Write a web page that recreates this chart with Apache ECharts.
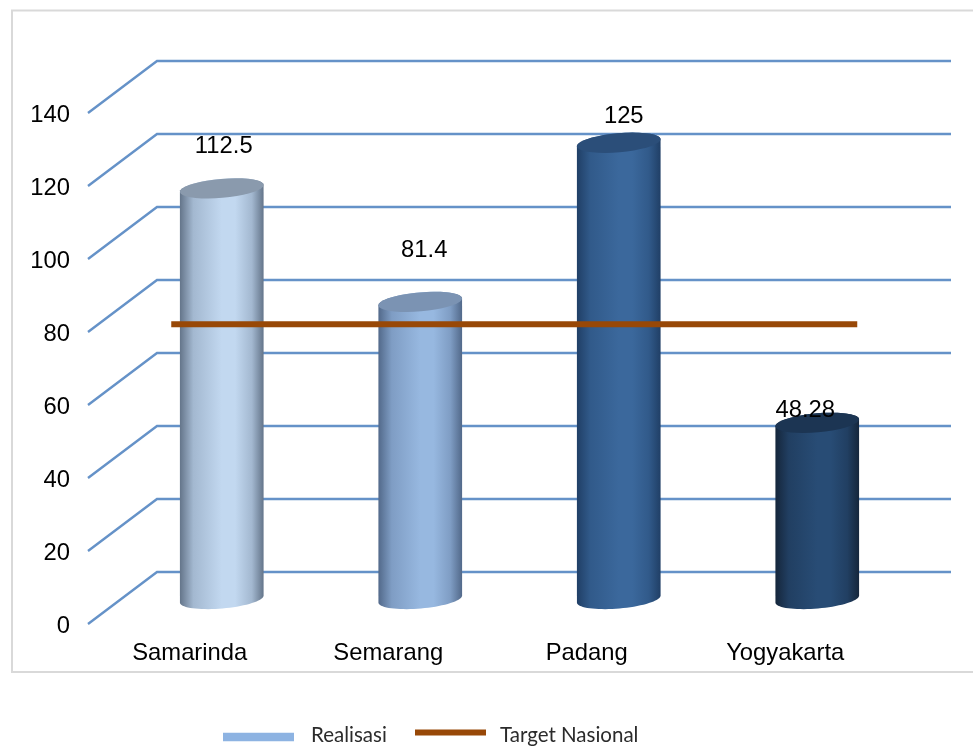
<!DOCTYPE html>
<html>
<head>
<meta charset="utf-8">
<style>html,body{margin:0;padding:0;background:#fff}#c{width:973px;height:746px}</style>
<script src="https://cdn.jsdelivr.net/npm/echarts@6/dist/echarts.min.js"></script>
</head>
<body>
<div id="c"></div>
<script>
var categories = ['Samarinda', 'Semarang', 'Padang', 'Yogyakarta'];
var realisasi = [112.5, 81.4, 125, 48.28];
var realisasiLabels = ['112.5', '81.4', '125', '48.28'];
var targetNasional = [75, 75, 75, 75];
var yTicks = [0, 20, 40, 60, 80, 100, 120, 140];

// look of the pseudo-3D chart
var DEPTH_X = 69, DEPTH_Y = 52;
var RX = 42, RY = 9.5, TILT = -5 * Math.PI / 180;
var SKINS = [
  { edge: '#64758a', shoulder: '#a3b8d0', mid: '#c2d8f0', top: '#8a9aad' },
  { edge: '#52698a', shoulder: '#7f9dc4', mid: '#97b8e0', top: '#7b93b3' },
  { edge: '#203f66', shoulder: '#315a8a', mid: '#3b689c', top: '#2b4e79' },
  { edge: '#15263b', shoulder: '#213f62', mid: '#284c75', top: '#1c3553' }
];
var LABEL_LIFT = [42, 51, 26, 12];
var LABEL_SHIFT = [2, 4, 5, -12];

function ellipsePt(cx, cy, t) {
  var c = Math.cos(t), s = Math.sin(t), ca = Math.cos(TILT), sa = Math.sin(TILT);
  return [cx + RX * c * ca - RY * s * sa, cy + RX * c * sa + RY * s * ca];
}
function arc(cx, cy, from, to) {
  var pts = [], n = 36;
  for (var i = 0; i <= n; i++) pts.push(ellipsePt(cx, cy, from + (to - from) * i / n));
  return pts;
}

var chart = echarts.init(document.getElementById('c'), null, { renderer: 'canvas' });
chart.setOption({
  animation: false,
  backgroundColor: '#ffffff',
  graphic: [{
    type: 'rect', z: -1, silent: true,
    shape: { x: 12, y: 10.5, width: 970, height: 661.5 },
    style: { fill: 'none', stroke: '#d9d9d9', lineWidth: 2 }
  }],
  grid: { left: 88, top: 113, width: 794, height: 511, containLabel: false },
  xAxis: {
    type: 'category', data: categories,
    axisLine: { show: false }, axisTick: { show: false }, splitLine: { show: false },
    axisLabel: { color: '#000', fontFamily: 'Liberation Sans', fontSize: 23.8, margin: 17, padding: [0, 0, 0, 5] }
  },
  yAxis: {
    type: 'value', min: 0, max: 140, interval: 20,
    axisLine: { show: false }, axisTick: { show: false }, splitLine: { show: false },
    axisLabel: { margin: 18, formatter: '{v|{value}}',
      rich: { v: { color: '#000', fontFamily: 'Liberation Sans', fontSize: 23.8, padding: [4, 0, 0, 0] } } }
  },
  legend: [
    { left: 223, top: 725, padding: 0, itemGap: 0, itemWidth: 71, itemHeight: 8.5, icon: 'rect',
      data: ['Realisasi'], formatter: '{t|{name}}',
      textStyle: { rich: { t: { color: '#2b2b2b', fontFamily: 'Lato', fontSize: 20.5, padding: [0, 0, 3, 12] } } } },
    { left: 415, top: 725, padding: 0, itemGap: 0, itemWidth: 71, itemHeight: 6, icon: 'rect',
      data: ['Target Nasional'], formatter: '{t|{name}}',
      textStyle: { rich: { t: { color: '#2b2b2b', fontFamily: 'Lato', fontSize: 20.5, padding: [6, 0, 0, 9] } } } }
  ],
  series: [
    {
      name: 'grid-floor', type: 'custom', silent: true, z: 1,
      coordinateSystem: 'cartesian2d',
      data: yTicks.map(function (v) { return [0, v]; }),
      encode: { x: 0, y: 1 },
      renderItem: function (params, api) {
        var y = api.coord([0, api.value(1)])[1];
        var cs = params.coordSys;
        return {
          type: 'polyline',
          shape: { points: [[cs.x, y], [cs.x + DEPTH_X, y - DEPTH_Y], [cs.x + cs.width + DEPTH_X, y - DEPTH_Y]] },
          style: { fill: 'none', stroke: '#6592c8', lineWidth: 2.4 }
        };
      }
    },
    {
      name: 'Realisasi', type: 'custom', z: 2,
      coordinateSystem: 'cartesian2d',
      itemStyle: { color: '#8db3e2' },
      data: realisasi.map(function (v, i) { return [i, v]; }),
      encode: { x: 0, y: 1 },
      renderItem: function (params, api) {
        var i = params.dataIndex, skin = SKINS[i];
        var top = api.coord([i, api.value(1)]), base = api.coord([i, 0]);
        var cx = top[0] + DEPTH_X / 2, cyTop = top[1] - 25, cyBase = base[1] - 25;
        var body = arc(cx, cyBase, Math.PI, 0).concat(arc(cx, cyTop, 0, -Math.PI));
        return {
          type: 'group',
          children: [
            { type: 'polygon', shape: { points: body },
              style: { fill: new echarts.graphic.LinearGradient(0, 0, 1, 0, [
                { offset: 0, color: skin.edge }, { offset: 0.16, color: skin.shoulder },
                { offset: 0.5, color: skin.mid }, { offset: 0.66, color: skin.mid },
                { offset: 0.86, color: skin.shoulder }, { offset: 1, color: skin.edge }]) } },
            { type: 'polygon', shape: { points: arc(cx, cyTop, 0, 2 * Math.PI) },
              style: { fill: skin.top } },
            { type: 'text', z2: 50,
              style: { x: cx + LABEL_SHIFT[i], y: cyTop - LABEL_LIFT[i], text: realisasiLabels[i],
                align: 'center', verticalAlign: 'middle', fill: '#000',
                font: '23.8px "Liberation Sans"' } }
          ]
        };
      }
    },
    {
      name: 'Target Nasional', type: 'custom', z: 3,
      coordinateSystem: 'cartesian2d',
      itemStyle: { color: '#984807' },
      data: [[0, targetNasional[0], 3, targetNasional[3]]],
      encode: { x: 0, y: 1 },
      renderItem: function (params, api) {
        var a = api.coord([api.value(0), api.value(1)]), b = api.coord([api.value(2), api.value(3)]);
        return {
          type: 'line',
          shape: { x1: a[0] + DEPTH_X / 2 - 50.5, y1: a[1] - 26, x2: b[0] + DEPTH_X / 2 + 40, y2: b[1] - 26 },
          style: { stroke: '#984807', lineWidth: 6 }
        };
      }
    }
  ]
});
</script>
</body>
</html>
